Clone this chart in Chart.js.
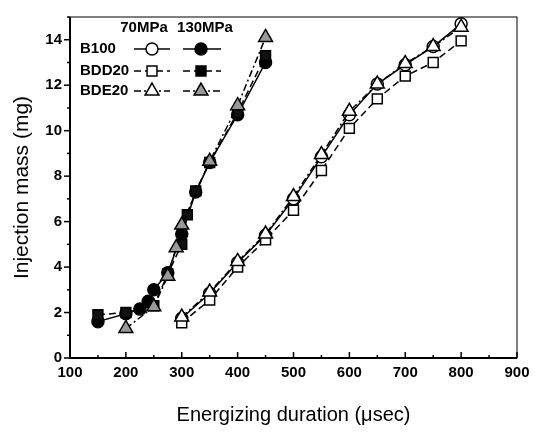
<!DOCTYPE html>
<html>
<head>
<meta charset="utf-8">
<script src="https://cdn.jsdelivr.net/npm/chart.js@4.4.1/dist/chart.umd.min.js"></script>
<style>
  html, body { margin: 0; padding: 0; background: #fff; }
  #wrap { width: 544px; height: 439px; }
</style>
</head>
<body>
<div id="wrap"><canvas id="chart" width="544" height="439"></canvas></div>
<script>
// tick labels
const xTicks = [100, 200, 300, 400, 500, 600, 700, 800, 900];
const yTicks = [0, 2, 4, 6, 8, 10, 12, 14];

// 70 MPa (open markers)
const x70 = [300, 350, 400, 450, 500, 550, 600, 650, 700, 750, 800];
const b100_70 = [1.75, 2.85, 4.2, 5.4, 7.0, 8.85, 10.7, 12.05, 12.9, 13.7, 14.7];
const bdd20_70 = [1.55, 2.55, 4.0, 5.2, 6.5, 8.25, 10.1, 11.4, 12.4, 13.0, 13.95];
const bde20_70 = [1.8, 2.9, 4.25, 5.45, 7.1, 8.95, 10.85, 12.05, 12.95, 13.7, 14.55];

// 130 MPa (filled markers)
const xB100_130 = [150, 200, 225, 240, 250, 275, 300, 325, 350, 400, 450];
const b100_130 = [1.6, 1.95, 2.15, 2.5, 3.0, 3.75, 5.45, 7.3, 8.6, 10.7, 13.0];
const xBDD20_130 = [150, 200, 250, 275, 300, 310, 325, 350, 400, 450];
const bdd20_130 = [1.9, 2.0, 2.3, 3.7, 5.0, 6.3, 7.35, 8.6, 10.8, 13.3];
const xBDE20_130 = [200, 250, 275, 290, 300, 350, 400, 450];
const bde20_130 = [1.3, 2.25, 3.6, 4.85, 5.85, 8.65, 11.1, 14.1];

const FONT = '"Liberation Sans", Arial, sans-serif';
const SOLID = [], DASH = [7, 4], DASHDOT = [7, 3, 2, 3];

function pts(xs, ys) {
  return xs.map((x, i) => ({ x: x, y: ys[i] }));
}

// higher order is drawn first (underneath)
function series(label, xs, ys, style, dash, fill, radius, order) {
  return {
    label: label,
    data: pts(xs, ys),
    order: order,
    showLine: true,
    tension: 0,
    borderColor: '#000',
    borderWidth: 1.5,
    borderDash: dash,
    pointStyle: style,
    pointRadius: radius,
    pointBorderWidth: 1.5,
    pointBorderColor: '#000',
    pointBackgroundColor: fill,
    backgroundColor: fill
  };
}

// marker drawing for the legend
function marker(ctx, style, x, y, r, fill) {
  ctx.save();
  ctx.setLineDash([]);
  ctx.lineWidth = 1.5;
  ctx.strokeStyle = '#000';
  ctx.fillStyle = fill;
  ctx.beginPath();
  if (style === 'circle') {
    ctx.arc(x, y, r, 0, Math.PI * 2);
  } else if (style === 'rect') {
    const s = r * Math.SQRT1_2;
    ctx.rect(x - s, y - s, 2 * s, 2 * s);
  } else {
    for (let k = 0; k < 3; k++) {
      const a = k * 2 * Math.PI / 3;
      const px = x + Math.sin(a) * r, py = y - Math.cos(a) * r;
      k === 0 ? ctx.moveTo(px, py) : ctx.lineTo(px, py);
    }
    ctx.closePath();
  }
  ctx.fill();
  ctx.stroke();
  ctx.restore();
}

const frame = {
  id: 'frame',
  afterDraw(chart) {
    const ctx = chart.ctx, a = chart.chartArea;
    const xs = chart.scales.x, ys = chart.scales.y;
    ctx.save();
    ctx.strokeStyle = '#000';
    ctx.setLineDash([]);
    // box
    ctx.lineWidth = 1;
    ctx.strokeRect(a.left, a.top, a.right - a.left, a.bottom - a.top);
    ctx.lineWidth = 2;
    ctx.beginPath();
    ctx.moveTo(a.left, a.top); ctx.lineTo(a.left, a.bottom); ctx.lineTo(a.right, a.bottom);
    ctx.stroke();
    // x ticks (inward)
    ctx.lineWidth = 1.5;
    for (let v = 100; v <= 900; v += 50) {
      const px = xs.getPixelForValue(v);
      const len = v % 100 === 0 ? 6 : 3;
      ctx.beginPath(); ctx.moveTo(px, a.bottom); ctx.lineTo(px, a.bottom - len); ctx.stroke();
    }
    // y ticks (outward)
    for (let v = 0; v <= 15; v += 1) {
      const py = ys.getPixelForValue(v);
      const len = v % 2 === 0 ? 6 : 3;
      ctx.beginPath(); ctx.moveTo(a.left, py); ctx.lineTo(a.left - len, py); ctx.stroke();
    }

    // legend
    ctx.fillStyle = '#000';
    ctx.font = 'bold 15px ' + FONT;
    ctx.textBaseline = 'middle';
    ctx.textAlign = 'center';
    ctx.fillText('70MPa', 144, 28);
    ctx.fillText('130MPa', 205, 28);
    const rows = [
      ['B100', 'circle', SOLID, 49, 6],
      ['BDD20', 'rect', DASH, 71, 7],
      ['BDE20', 'triangle', DASHDOT, 91, 8]
    ];
    rows.forEach(r => {
      ctx.textAlign = 'left';
      ctx.fillText(r[0], 80, r[3]);
      [[134, 170, 152, '#fff'], [183, 221, 201, r[1] === 'triangle' ? '#999' : '#000']].forEach(s => {
        ctx.lineWidth = 1.5;
        ctx.setLineDash(r[2]);
        ctx.beginPath(); ctx.moveTo(s[0], r[3]); ctx.lineTo(s[1], r[3]); ctx.stroke();
        marker(ctx, r[1], s[2], r[3], r[4], s[3]);
      });
    });
    ctx.restore();
  }
};

new Chart(document.getElementById('chart'), {
  type: 'scatter',
  data: {
    datasets: [
      series('B100 70MPa', x70, b100_70, 'circle', SOLID, '#fff', 6, 3),
      series('BDD20 70MPa', x70, bdd20_70, 'rect', DASH, '#fff', 7, 2),
      series('BDE20 70MPa', x70, bde20_70, 'triangle', DASHDOT, '#fff', 8, 1),
      series('B100 130MPa', xB100_130, b100_130, 'circle', SOLID, '#000', 6, 3),
      series('BDD20 130MPa', xBDD20_130, bdd20_130, 'rect', DASH, '#111', 7, 2),
      series('BDE20 130MPa', xBDE20_130, bde20_130, 'triangle', DASHDOT, '#999', 8, 1)
    ]
  },
  options: {
    responsive: false,
    animation: false,
    layout: { padding: { left: 0, right: 27, top: 6, bottom: 0 } },
    plugins: { legend: { display: false }, tooltip: { enabled: false } },
    scales: {
      x: {
        type: 'linear', min: 100, max: 900,
        afterBuildTicks: s => { s.ticks = xTicks.map(v => ({ value: v })); },
        afterFit: s => { s.height = 81; },
        grid: { display: false, drawTicks: false },
        border: { display: false },
        ticks: { padding: 6, color: '#000', font: { family: FONT, size: 15, weight: 'bold' } },
        title: {
          display: true, text: 'Energizing duration (\u03bcsec)', color: '#000',
          font: { family: FONT, size: 20 }, padding: { top: 12, bottom: 12 }
        }
      },
      y: {
        type: 'linear', min: 0, max: 15,
        afterBuildTicks: s => { s.ticks = yTicks.map(v => ({ value: v })); },
        afterFit: s => { s.width = 70; },
        grid: { display: false, drawTicks: false },
        border: { display: false },
        ticks: { padding: 8, color: '#000', font: { family: FONT, size: 15, weight: 'bold' } },
        title: {
          display: true, text: 'Injection mass (mg)', color: '#000',
          font: { family: FONT, size: 21 }, padding: { top: 10, bottom: 10 }
        }
      }
    }
  },
  plugins: [frame]
});
</script>
</body>
</html>
